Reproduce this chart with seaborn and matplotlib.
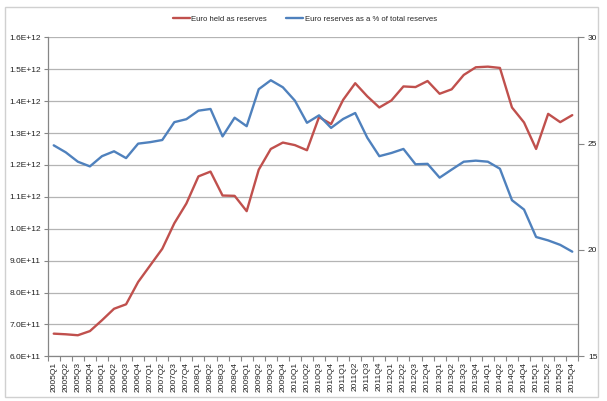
import matplotlib
matplotlib.use("Agg")
import matplotlib.pyplot as plt
import seaborn as sns
import pandas as pd
import numpy as np
from matplotlib.patches import Rectangle
from matplotlib.ticker import FixedLocator

quarters = [f"{y}Q{q}" for y in range(2005, 2016) for q in range(1, 5)]

euro_held = [6.71, 6.69, 6.66, 6.79, 7.13, 7.49, 7.63, 8.33, 8.85, 9.37,
             10.17, 10.79, 11.64, 11.79, 11.04, 11.03, 10.55, 11.85, 12.50, 12.70,
             12.62, 12.46, 13.50, 13.28, 14.04, 14.56, 14.15, 13.80, 14.02, 14.46,
             14.44, 14.63, 14.23, 14.37, 14.82, 15.06, 15.08, 15.04, 13.80, 13.33,
             12.50, 13.60, 13.34, 13.56]
euro_held = [v * 1e11 for v in euro_held]

euro_pct = [24.92, 24.59, 24.15, 23.93, 24.41, 24.64, 24.32, 25.00, 25.07, 25.17,
            26.01, 26.15, 26.55, 26.63, 25.34, 26.22, 25.82, 27.56, 27.98, 27.65,
            27.02, 25.98, 26.33, 25.74, 26.16, 26.44, 25.28, 24.41, 24.56, 24.75,
            24.03, 24.05, 23.40, 23.78, 24.15, 24.20, 24.15, 23.82, 22.34, 21.90,
            20.61, 20.45, 20.24, 19.92]

left_ticks = [6e11, 7e11, 8e11, 9e11, 1e12, 1.1e12, 1.2e12, 1.3e12, 1.4e12, 1.5e12, 1.6e12]
left_labels = ["6.0E+11", "7.0E+11", "8.0E+11", "9.0E+11", "1.0E+12", "1.1E+12",
               "1.2E+12", "1.3E+12", "1.4E+12", "1.5E+12", "1.6E+12"]
right_ticks = [15, 20, 25, 30]

RED = "#C0504D"
BLUE = "#4F81BD"
GRID = "#b4b4b4"
AX = "#868686"

sns.set_theme(style="white")
plt.rcParams['font.family'] = ['Liberation Sans', 'DejaVu Sans']

df = pd.DataFrame({"pos": np.arange(len(quarters)), "quarter": quarters,
                   "held": euro_held, "pct": euro_pct})

fig = plt.figure(figsize=(6.07, 4.01), dpi=100)
fig.patches.append(Rectangle((5 / 607, 1 - 397 / 401), 593 / 607, 390 / 401,
                             transform=fig.transFigure, fill=False,
                             edgecolor="#d0d0d0", linewidth=1.0))
ax = fig.add_axes([47.7 / 607, 1 - 356.3 / 401, (578.3 - 47.7) / 607, (356.3 - 37.3) / 401])
ax2 = ax.twinx()

sns.lineplot(data=df, x="pos", y="held", ax=ax, color=RED, linewidth=1.7,
             label="Euro held as reserves", legend=False)
sns.lineplot(data=df, x="pos", y="pct", ax=ax2, color=BLUE, linewidth=1.7,
             label="Euro reserves as a % of total reserves", legend=False)

ax.set_xlim(-0.5, len(quarters) - 0.5)
ax.set_ylim(6e11, 1.6e12)
ax2.set_ylim(15, 30)

ax.set_yticks(left_ticks)
ax.set_yticklabels(left_labels, fontsize=6, color="#222222")
ax2.set_yticks(right_ticks)
ax2.set_yticklabels([str(t) for t in right_ticks], fontsize=6, color="#222222")

ax.set_xticks(df["pos"])
ax.set_xticklabels(quarters, rotation=90, fontsize=6, color="#222222")
ax.xaxis.set_minor_locator(FixedLocator(np.arange(-0.5, len(quarters), 1.0)))
ax.tick_params(axis="x", which="major", length=0, pad=4)
ax.tick_params(axis="x", which="minor", length=3.5, color=AX, width=0.8, bottom=True)
ax.tick_params(axis="y", length=3, color=AX, width=0.8, pad=2, left=True)
ax2.tick_params(axis="y", length=4, color=AX, width=0.8, pad=3, right=True)

ax.grid(axis="y", color=GRID, linewidth=0.9)
ax.set_axisbelow(True)
ax.set_xlabel("")
ax.set_ylabel("")
ax2.set_ylabel("")
ax2.grid(False)

for a in (ax, ax2):
    a.spines["top"].set_visible(False)
    for s in ("left", "right", "bottom"):
        a.spines[s].set_color(AX)
        a.spines[s].set_linewidth(0.9)
ax.spines["right"].set_visible(False)
ax2.spines["left"].set_visible(False)
ax2.spines["bottom"].set_visible(False)

h1, l1 = ax.get_legend_handles_labels()
h2, l2 = ax2.get_legend_handles_labels()
fig.legend(h1 + h2, l1 + l2, loc="center", bbox_to_anchor=(0.502, 1 - 19 / 401),
           ncol=2, frameon=False, fontsize=5.6, handlelength=2.2, handletextpad=0.2,
           columnspacing=2.4)

fig.savefig("out.png", dpi=100)
